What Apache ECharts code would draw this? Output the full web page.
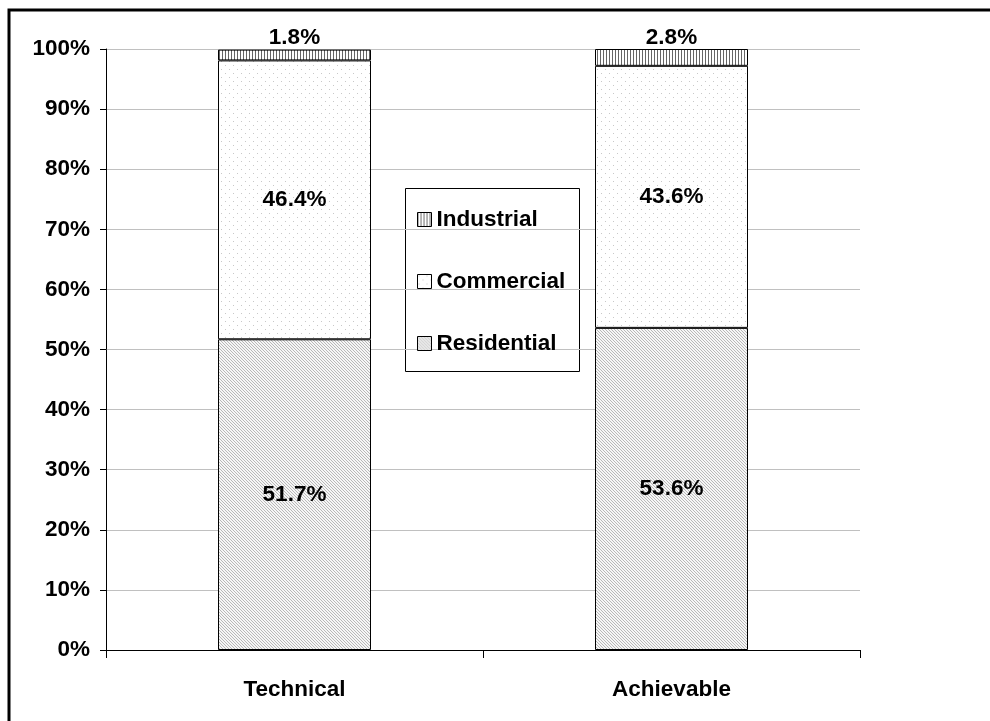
<!DOCTYPE html>
<html>
<head>
<meta charset="utf-8">
<script src="https://cdn.jsdelivr.net/npm/echarts@6/dist/echarts.min.js"></script>
<style>
  html, body { margin: 0; padding: 0; background: #fff; }
  #chart { width: 990px; height: 721px; }
</style>
</head>
<body>
<div id="chart"></div>
<script>
// data
const categories = ["Technical", "Achievable"]
const residential = [51.7, 53.6]
const commercial = [46.4, 43.6]
const industrial = [1.8, 2.8]
const legendOrder = ["Industrial", "Commercial", "Residential"]

const FONT = "'Liberation Sans', Arial, sans-serif"
const FS = 22.5

// small canvas tiles used as fill patterns
function makeTile(w, h, draw) {
    let c = document.createElement("canvas")
    c.width = w
    c.height = h
    let ctx = c.getContext("2d")
    ctx.fillStyle = "#fff"
    ctx.fillRect(0, 0, w, h)
    draw(ctx)
    return c
}

// diagonal hatch (residential)
let hatchTile = makeTile(3, 3, ctx => {
    ctx.fillStyle = "#f6f6f6"
    ctx.fillRect(0, 0, 3, 3)
    ctx.fillStyle = "#b8b8b8"
    for (let i = 0; i < 3; i++) ctx.fillRect(i, i, 1, 1)
})
// sparse dots (commercial)
let dotTile = makeTile(8, 8, ctx => {
    ctx.fillStyle = "#c8c8c8"
    ctx.fillRect(1, 1, 1, 1)
    ctx.fillRect(5, 5, 1, 1)
})
// vertical lines (industrial)
let lineTile = makeTile(3, 4, ctx => {
    ctx.fillStyle = "#666"
    ctx.fillRect(0, 0, 1, 4)
})

let myChart = echarts.init(document.getElementById("chart"), null, { renderer: "canvas" })

let labelStyle = {
    show: true,
    position: "inside",
    fontFamily: FONT,
    fontWeight: "bold",
    fontSize: FS,
    color: "#000",
    formatter: p => p.value.toFixed(1) + "%"
}

let option = {
    animation: false,
    textStyle: { fontFamily: FONT },
    grid: {
        left: 106,
        right: 130,
        top: 49,
        bottom: 71,
        containLabel: false
    },
    legend: {
        data: legendOrder,
        orient: "vertical",
        left: 417,
        top: 208,
        itemWidth: 14,
        itemHeight: 14,
        itemGap: 39,
        padding: 0,
        icon: "rect",
        itemStyle: { borderColor: "#000", borderWidth: 1 },
        textStyle: {
            fontFamily: FONT,
            fontWeight: "bold",
            fontSize: FS,
            lineHeight: 22,
            color: "#000"
        },
        selectedMode: false
    },
    graphic: [
        {
            type: "rect",
            left: 405,
            top: 188,
            shape: { width: 174, height: 183 },
            style: { fill: "#fff", stroke: "#000", lineWidth: 1 },
            z: -1
        },
        {
            type: "rect",
            shape: { x: 9, y: 10, width: 1000, height: 1000 },
            style: { fill: "none", stroke: "#000", lineWidth: 3 },
            silent: true
        }
    ],
    xAxis: {
        type: "category",
        data: categories,
        axisLine: { lineStyle: { color: "#000", width: 1 } },
        axisTick: { show: true, length: 8, lineStyle: { color: "#000" } },
        axisLabel: {
            margin: 28,
            fontFamily: FONT,
            fontWeight: "bold",
            fontSize: FS,
            color: "#000"
        }
    },
    yAxis: {
        type: "value",
        min: 0,
        max: 100,
        interval: 10,
        axisLine: { show: true, lineStyle: { color: "#000", width: 1 } },
        axisTick: { show: true, length: 6, lineStyle: { color: "#000" } },
        splitLine: { show: true, lineStyle: { color: "#c0c0c0", width: 1 } },
        axisLabel: {
            margin: 16,
            fontFamily: FONT,
            fontWeight: "bold",
            fontSize: FS,
            color: "#000",
            formatter: "{value}%"
        }
    },
    series: [
        {
            name: "Residential",
            type: "bar",
            stack: "total",
            barWidth: 153,
            data: residential,
            itemStyle: {
                color: { image: hatchTile, repeat: "repeat" },
                borderColor: "#000",
                borderWidth: 1
            },
            label: labelStyle
        },
        {
            name: "Commercial",
            type: "bar",
            stack: "total",
            barWidth: 153,
            data: commercial,
            itemStyle: {
                color: { image: dotTile, repeat: "repeat" },
                borderColor: "#000",
                borderWidth: 1
            },
            label: labelStyle
        },
        {
            name: "Industrial",
            type: "bar",
            stack: "total",
            barWidth: 153,
            data: industrial,
            itemStyle: {
                color: { image: lineTile, repeat: "repeat" },
                borderColor: "#000",
                borderWidth: 1
            },
            label: Object.assign({}, labelStyle, { position: "top", distance: 0 })
        }
    ]
}
myChart.setOption(option)
</script>
</body>
</html>
